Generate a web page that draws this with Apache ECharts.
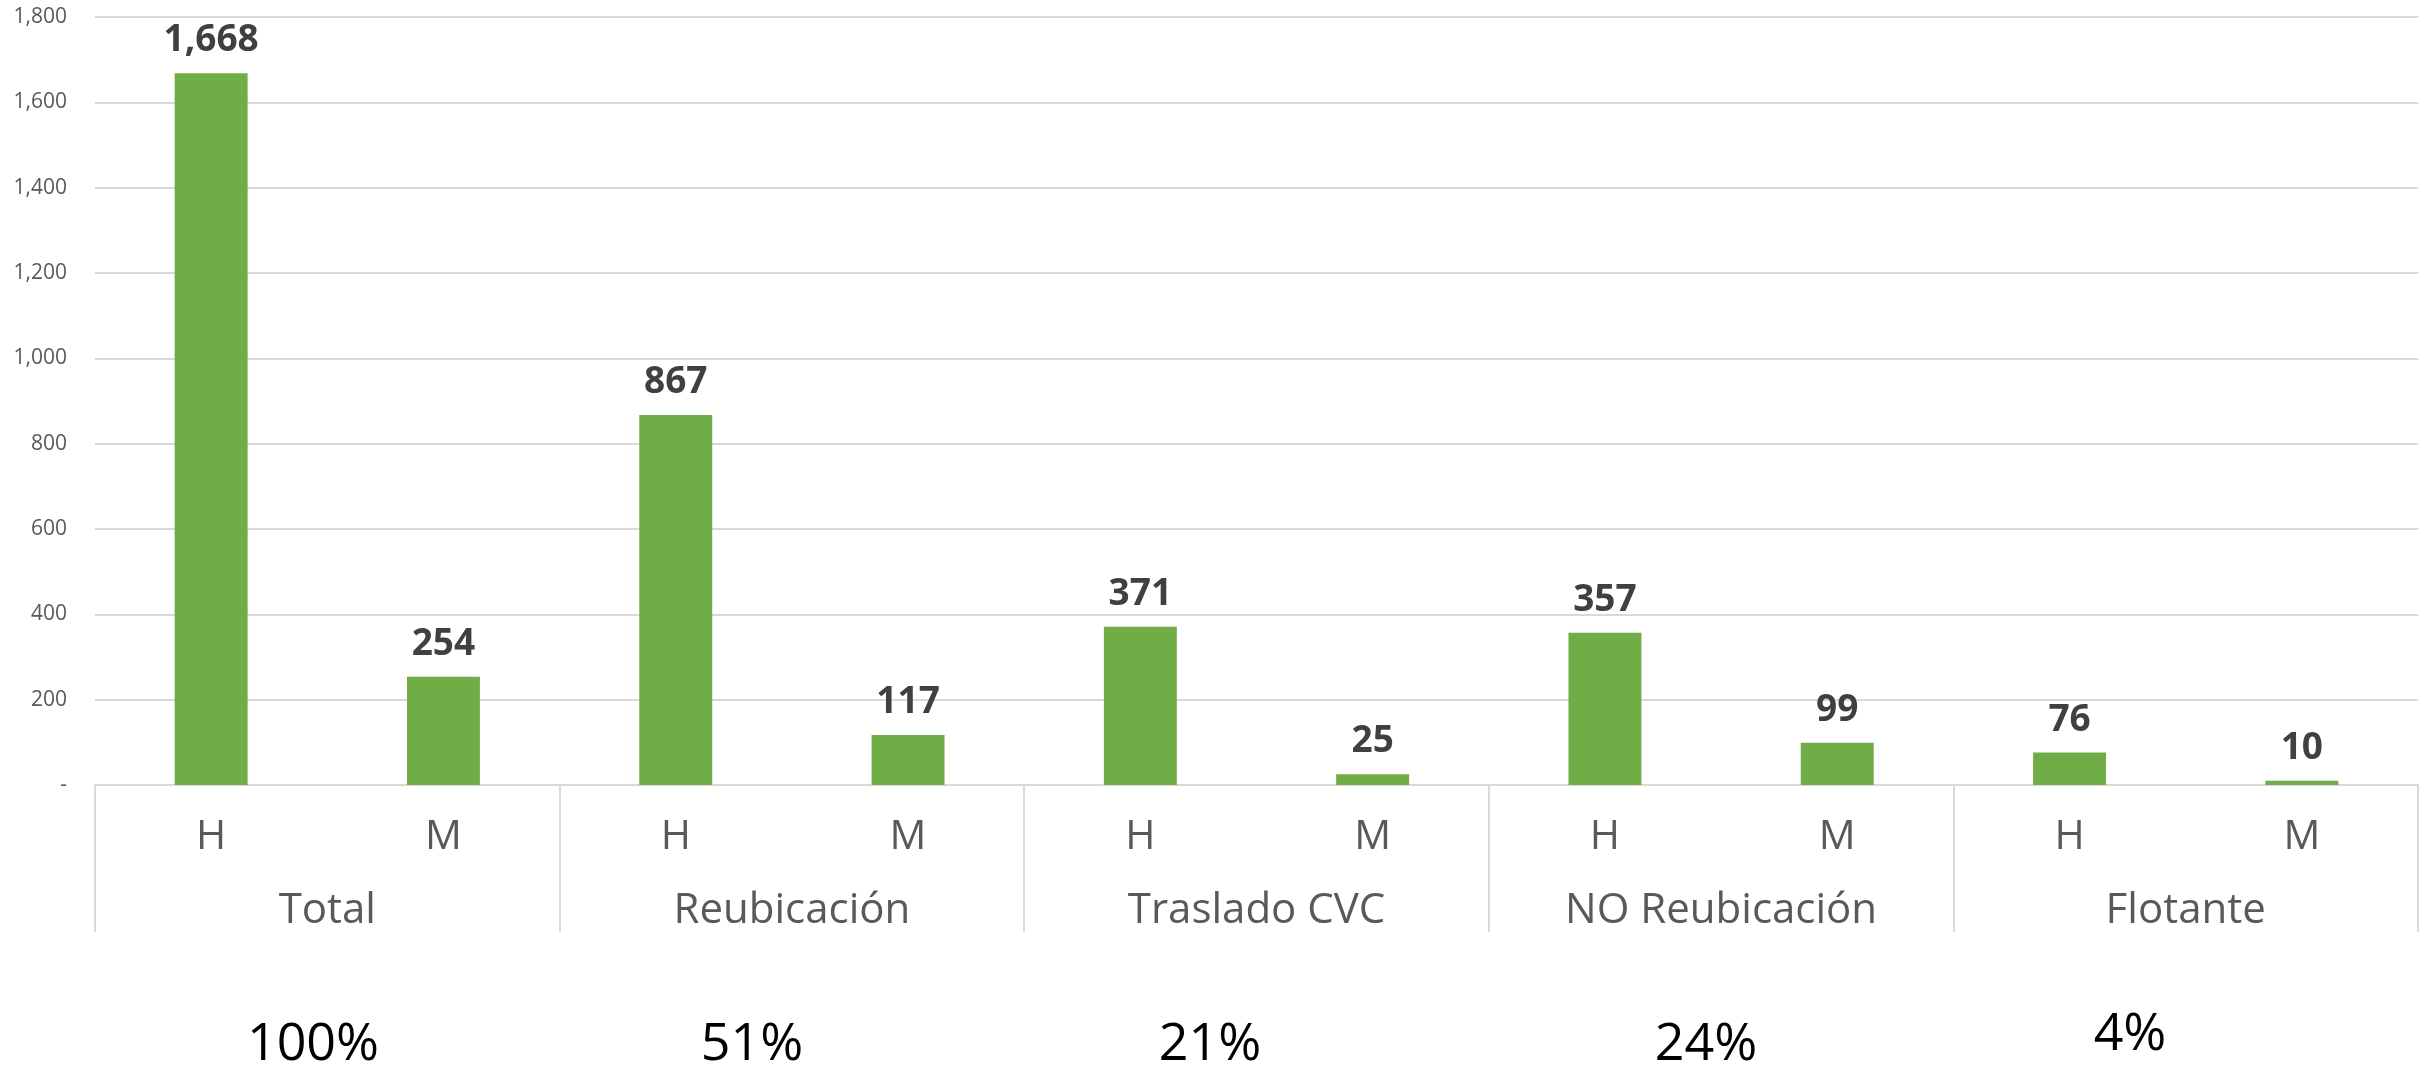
<!DOCTYPE html>
<html>
<head>
<meta charset="utf-8">
<title>Distribución por género</title>
<script src="https://cdn.jsdelivr.net/npm/echarts@6/dist/echarts.min.js"></script>
<style>
  html, body { margin: 0; padding: 0; background: #ffffff; }
  #chart { width: 2425px; height: 1066px; }
</style>
</head>
<body>
<div id="chart"></div>
<script>
// Grouped categories: each group has an H (hombres) and M (mujeres) bar
const groups = ['Total', 'Reubicación', 'Traslado CVC', 'NO Reubicación', 'Flotante'];
const sexes = ['H', 'M'];
const values = [1668, 254, 867, 117, 371, 25, 357, 99, 76, 10];
const shares = ['100%', '51%', '21%', '24%', '4%'];
const yTicks = { min: 0, max: 1800, interval: 200 };

// One bottom-level category per bar
const barCats = [];
groups.forEach(g => sexes.forEach(s => barCats.push(s + '|' + g)));

const chart = echarts.init(document.getElementById('chart'), null, { renderer: 'canvas' });

const gridLine = '#d9d9d9';
const labelFont = '"Open Sans", sans-serif';

// Share annotations below each group
const shareX = [313, 752, 1210, 1706, 2130];
const shareY = [1045, 1045, 1045, 1045, 1035];
const shareText = shares.map((t, i) => ({
  type: 'text',
  x: shareX[i],
  y: shareY[i],
  style: {
    text: t,
    fill: '#000000',
    font: '52px ' + labelFont,
    align: 'center',
    verticalAlign: 'middle'
  }
}));

chart.setOption({
  animation: false,
  backgroundColor: '#ffffff',
  grid: { left: 95, right: 7, top: 17, bottom: 281, containLabel: false },
  xAxis: [
    {
      type: 'category',
      data: barCats,
      position: 'bottom',
      axisLine: { show: true, lineStyle: { color: gridLine, width: 2 } },
      axisTick: { show: false },
      axisLabel: {
        interval: 0,
        margin: 32,
        color: '#595959',
        fontFamily: labelFont,
        fontSize: 41,
        formatter: v => v.split('|')[0]
      }
    },
    {
      type: 'category',
      data: groups,
      position: 'bottom',
      axisLine: { show: false },
      axisTick: {
        show: true,
        interval: 0,
        alignWithLabel: false,
        length: 147,
        lineStyle: { color: gridLine, width: 2 }
      },
      axisLabel: {
        interval: 0,
        margin: 105,
        color: '#595959',
        fontFamily: labelFont,
        fontSize: 42
      }
    }
  ],
  yAxis: {
    type: 'value',
    min: yTicks.min,
    max: yTicks.max,
    interval: yTicks.interval,
    axisLine: { show: false },
    axisTick: { show: false },
    splitLine: { lineStyle: { color: gridLine, width: 2 } },
    axisLabel: {
      margin: 28,
      color: '#595959',
      fontFamily: labelFont,
      fontSize: 21,
      formatter: v => v === 0 ? '-' : v.toLocaleString('en-US')
    }
  },
  series: [
    {
      type: 'bar',
      xAxisIndex: 0,
      data: values,
      barWidth: '31.4%',
      itemStyle: { color: '#70ad47' },
      label: {
        show: true,
        position: 'top',
        distance: 14,
        color: '#404040',
        fontFamily: labelFont,
        fontWeight: 'bold',
        fontSize: 37,
        formatter: p => p.value.toLocaleString('en-US')
      }
    }
  ],
  graphic: shareText
});
</script>
</body>
</html>
